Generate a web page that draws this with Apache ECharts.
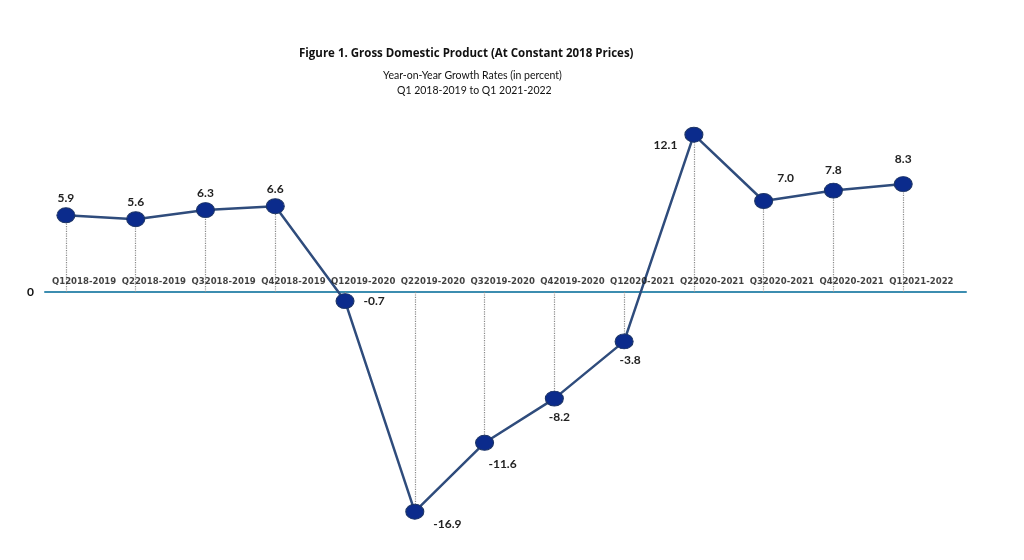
<!DOCTYPE html>
<html>
<head>
<meta charset="utf-8">
<script src="https://cdn.jsdelivr.net/npm/echarts@6/dist/echarts.min.js"></script>
<style>html,body{margin:0;padding:0;background:#fff}#c{width:1024px;height:560px}</style>
</head>
<body>
<div id="c"></div>
<script>
var categories = ['Q12018-2019','Q22018-2019','Q32018-2019','Q42018-2019','Q12019-2020','Q22019-2020','Q32019-2020','Q42019-2020','Q12020-2021','Q22020-2021','Q32020-2021','Q42020-2021','Q12021-2022'];
var gdpGrowth = [5.9, 5.6, 6.3, 6.6, -0.7, -16.9, -11.6, -8.2, -3.8, 12.1, 7.0, 7.8, 8.3];
var yTickLabels = ['0'];

// label placement (style only)
var labelPlacement = [
  {position:'top', offset:[0,2]},
  {position:'top', offset:[0,2]},
  {position:'top', offset:[0,2]},
  {position:'top', offset:[0,2]},
  {position:'right', offset:[4,0]},
  {position:'right', offset:[4,12]},
  {position:'bottom', offset:[18,2]},
  {position:'bottom', offset:[5,0]},
  {position:'bottom', offset:[6,0]},
  {position:'left', offset:[-2,10]},
  {position:'top', offset:[22,-4]},
  {position:'top', offset:[0,-2]},
  {position:'top', offset:[0,-6]}
];

var chart = echarts.init(document.getElementById('c'));
var idx = categories.map(function(c,i){return i;});
var seriesData = gdpGrowth.map(function(v,i){
  var p = labelPlacement[i];
  return {value:[i,v], label:{position:p.position, offset:p.offset}};
});
var dropLines = gdpGrowth.map(function(v,i){
  return [{coord:[i,0]},{coord:[i,v]}];
});
var catLabelData = categories.map(function(c,i){return [i,0];});
var fam = 'Lato, "Open Sans", sans-serif';

chart.setOption({
  animation:false,
  title:[
    {text:'Figure 1. Gross Domestic Product (At Constant 2018 Prices)', left:294, top:43,
     textStyle:{fontFamily:'"Open Sans", Lato, sans-serif', fontWeight:'bold', fontSize:11.5, color:'#111'}},
    {text:'Year-on-Year Growth Rates (in percent)', left:378, top:65,
     textStyle:{fontFamily:fam, fontWeight:'normal', fontSize:10.5, color:'#111'}},
    {text:'Q1 2018-2019 to Q1 2021-2022', left:392, top:80,
     textStyle:{fontFamily:fam, fontWeight:'normal', fontSize:10.5, color:'#111'}}
  ],
  grid:{left:45, right:58, top:110, bottom:34},
  xAxis:{
    type:'value', min:-0.3, max:12.9,
    splitLine:{show:false},
    axisLine:{onZero:true, lineStyle:{color:'#3c8db0', width:2}},
    axisTick:{show:false},
    axisLabel:{show:false}
  },
  yAxis:{
    type:'value', min:-18, max:14, interval:2,
    splitLine:{show:false}, axisLine:{show:false}, axisTick:{show:false},
    axisLabel:{margin:11, fontFamily:fam, fontWeight:'bold', fontSize:12, color:'#111',
      formatter:function(v){return v===0 ? yTickLabels[0] : '';}}
  },
  series:[{
    type:'line',
    data:seriesData,
    symbol:'circle', symbolSize:[18,15],
    lineStyle:{color:'#2f4c7c', width:2.5},
    itemStyle:{color:'#0b2b8c', borderColor:'#1d3566', borderWidth:1},
    label:{show:true, fontFamily:fam, fontWeight:'bold', fontSize:12, color:'#222',
      formatter:function(p){return p.value[1].toFixed(1);}},
    markLine:{
      silent:true, symbol:'none', z:1,
      lineStyle:{color:'#8a8a8a', type:'dotted', width:1.2},
      label:{show:false},
      data:dropLines
    },
    z:3
  },{
    type:'scatter',
    data:catLabelData,
    symbol:'circle', symbolSize:1,
    itemStyle:{color:'rgba(0,0,0,0)'},
    silent:true, z:4,
    label:{show:true, position:'top', distance:5, align:'left', offset:[-14,0],
      fontFamily:'"Liberation Sans Narrow", "DejaVu Sans Condensed", sans-serif',
      fontWeight:'bold', fontSize:9.5, color:'#111',
      formatter:function(p){return categories[p.dataIndex];}}
  }]
});
</script>
</body>
</html>
